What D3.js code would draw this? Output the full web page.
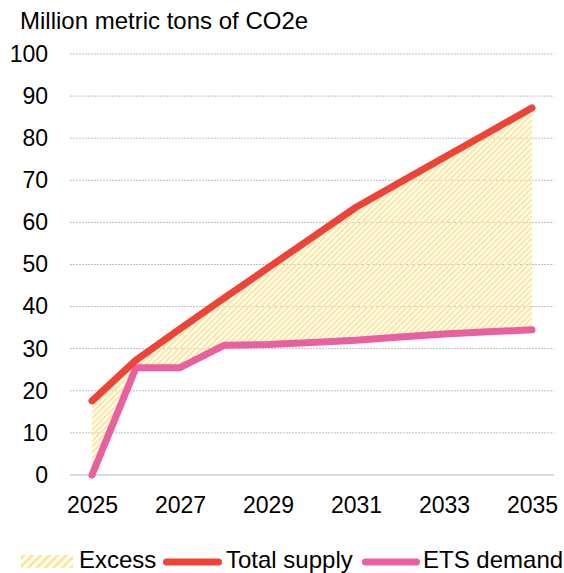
<!DOCTYPE html>
<html>
<head>
<meta charset="utf-8">
<script src="https://cdn.jsdelivr.net/npm/d3@7"></script>
<style>
  html, body { margin: 0; padding: 0; background: #fff; }
  svg { display: block; font-family: "Liberation Sans", Arial, sans-serif; }
</style>
</head>
<body>
<svg id="chart" width="564" height="573"></svg>
<script>
// Supply and demand of allowances, million metric tons of CO2e
const years = [2025, 2026, 2027, 2028, 2029, 2030, 2031, 2032, 2033, 2034, 2035];
const totalSupply = [17.6, 27.3, 34.7, 42.0, 49.2, 56.4, 63.6, 69.5, 75.4, 81.3, 87.2];
const etsDemand = [0, 25.5, 25.5, 30.8, 31.0, 31.5, 32.0, 32.8, 33.5, 34.0, 34.5];
const yTicks = [0, 10, 20, 30, 40, 50, 60, 70, 80, 90, 100];
const xTickYears = [2025, 2027, 2029, 2031, 2033, 2035];
const unitLabel = "Million metric tons of CO2e";
const legendItems = ["Excess", "Total supply", "ETS demand"];

const colors = { supply: "#EE4437", demand: "#E8609F", excess: "#FFE699" };

const svg = d3.select("#chart");
const plotLeft = 70, plotRight = 554, plotTop = 54, plotBottom = 475;

const x = d3.scalePoint().domain(years).range([plotLeft, plotRight]).padding(0.5);
const y = d3.scaleLinear().domain([0, 100]).range([plotBottom, plotTop]);

// hatch pattern for the excess area
const defs = svg.append("defs");
const pat = defs.append("pattern")
  .attr("id", "hatch").attr("patternUnits", "userSpaceOnUse")
  .attr("width", 4).attr("height", 4)
  .attr("patternTransform", "rotate(45)");
pat.append("rect").attr("x", 0).attr("y", 0).attr("width", 2).attr("height", 4)
  .attr("fill", colors.excess);
const pat2 = defs.append("pattern")
  .attr("id", "hatchLegend").attr("patternUnits", "userSpaceOnUse")
  .attr("width", 6).attr("height", 6)
  .attr("patternTransform", "rotate(45)");
pat2.append("rect").attr("x", 0).attr("y", 0).attr("width", 3).attr("height", 6)
  .attr("fill", colors.excess);

// unit label
svg.append("text").attr("x", 20).attr("y", 29)
  .attr("font-size", 24).attr("fill", "#000").text(unitLabel);

// y axis labels
const yAxis = d3.axisLeft(y).tickValues(yTicks).tickSize(0).tickPadding(0);
const gy = svg.append("g").attr("transform", `translate(48,0)`).call(yAxis);
gy.select(".domain").remove();
gy.selectAll("text").attr("font-size", 23).attr("fill", "#000")
  .attr("font-family", "Liberation Sans, Arial, sans-serif");

// gridlines
svg.append("g").selectAll("line").data(yTicks.filter(d => d > 0)).join("line")
  .attr("x1", plotLeft).attr("x2", plotRight)
  .attr("y1", d => y(d)).attr("y2", d => y(d))
  .attr("stroke", "#BFBFBF").attr("stroke-width", 1)
  .attr("stroke-dasharray", "2,1");

// excess area between demand and supply
const rows = years.map((yr, i) => ({ yr, s: totalSupply[i], d: etsDemand[i] }));
const area = d3.area().x(d => x(d.yr)).y0(d => y(d.d)).y1(d => y(d.s));
svg.append("path").datum(rows).attr("d", area).attr("fill", "url(#hatch)");

// baseline
svg.append("line").attr("x1", plotLeft).attr("x2", plotRight)
  .attr("y1", y(0)).attr("y2", y(0))
  .attr("stroke", "#D0D0D0").attr("stroke-width", 1.5);

// x axis labels
const xAxis = d3.axisBottom(x).tickValues(xTickYears).tickSize(0).tickPadding(0);
const gx = svg.append("g").attr("transform", `translate(0,${y(0) + 22})`).call(xAxis);
gx.select(".domain").remove();
gx.selectAll("text").attr("font-size", 23).attr("fill", "#000")
  .attr("font-family", "Liberation Sans, Arial, sans-serif");

// lines
const line = d3.line().x((d, i) => x(years[i])).y(d => y(d));
svg.append("path").datum(etsDemand).attr("d", line)
  .attr("fill", "none").attr("stroke", colors.demand).attr("stroke-width", 7)
  .attr("stroke-linejoin", "round").attr("stroke-linecap", "round");
svg.append("path").datum(totalSupply).attr("d", line)
  .attr("fill", "none").attr("stroke", colors.supply).attr("stroke-width", 7)
  .attr("stroke-linejoin", "round").attr("stroke-linecap", "round");

// legend
const ly = 562;
const lg = svg.append("g").attr("font-size", 24).attr("fill", "#000");
lg.append("rect").attr("x", 21).attr("y", ly - 7).attr("width", 52).attr("height", 13)
  .attr("fill", "url(#hatchLegend)");
lg.append("text").attr("x", 79).attr("y", ly + 6).text(legendItems[0]);
lg.append("line").attr("x1", 166.5).attr("x2", 218.5).attr("y1", ly).attr("y2", ly)
  .attr("stroke", colors.supply).attr("stroke-width", 7).attr("stroke-linecap", "round");
lg.append("text").attr("x", 226).attr("y", ly + 6).text(legendItems[1]);
lg.append("line").attr("x1", 365.5).attr("x2", 416.5).attr("y1", ly).attr("y2", ly)
  .attr("stroke", colors.demand).attr("stroke-width", 7).attr("stroke-linecap", "round");
lg.append("text").attr("x", 423).attr("y", ly + 6).text(legendItems[2]);
</script>
</body>
</html>
